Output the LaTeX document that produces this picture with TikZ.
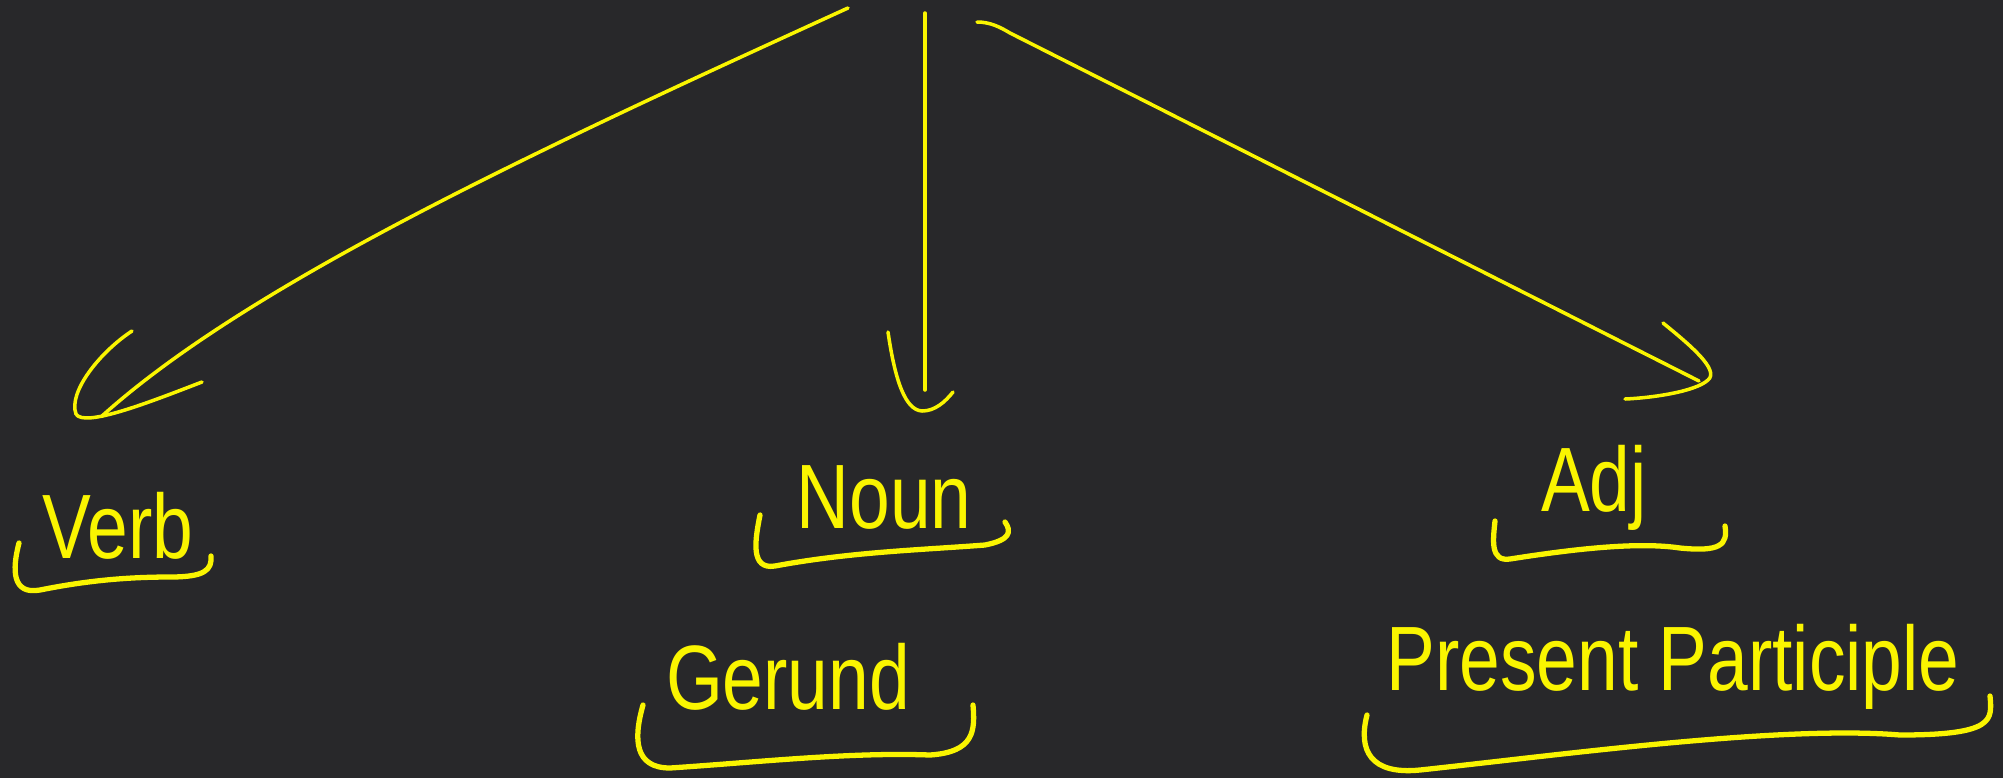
\documentclass[tikz,border=0pt]{standalone}
\usepackage{fontspec}
\setmainfont{Liberation Sans}
\newfontfamily\handfont[FakeStretch=0.8]{Liberation Sans}
\usetikzlibrary{positioning}
\definecolor{boardGray}{RGB}{40,40,42}
\definecolor{chalkYellow}{RGB}{250,245,0}

\begin{document}
\begin{tikzpicture}[x=0.01cm, y=-0.01cm,
  hand/.style={chalkYellow, line width=1pt, line cap=round, line join=round},
  ink/.style={hand, line width=1.5pt},
  word/.style={chalkYellow, font=\handfont\fontsize{26}{30}\selectfont, anchor=base, inner sep=0pt}]
  % Board
  \fill[boardGray] (0,0) rectangle (2003,778);
  \useasboundingbox (0,0) rectangle (2003,778);
  % Words
  \node[word] (verb) at (118,558) {Verb};
  \node[word] (noun) at (884,528) {Noun};
  \node[word] (adj) at (1594,511) {Adj};
  \node[word] (gerund) at (788,709) {Gerund};
  \node[word] (prespart) at (1673,690) {Present Participle};
  % Arrow ends
  \coordinate (srcL) at (848,8);
  \coordinate (tipL) at (102,416);
  \coordinate (srcM) at (925,13);
  \coordinate (tipM) at (925,390);
  \coordinate (srcR) at (977,22);
  \coordinate (tipR) at (1699,381);
  % Arrows
  \draw[hand] (srcL) .. controls (548,145) and (252,281) .. (tipL);
  \draw[hand] (132,331) .. controls (100,352) and (68,392) .. (76,414)
    .. controls (84,428) and (150,402) .. (202,382);
  \draw[hand] (srcM) -- (tipM);
  \draw[hand] (888,332) .. controls (895,380) and (905,410) .. (922,411)
    .. controls (935,411) and (945,402) .. (953,392);
  \draw[hand] (srcR) .. controls (990,22) and (1000,27) .. (1010,33) -- (tipR);
  \draw[hand] (1663,323) .. controls (1690,345) and (1720,370) .. (1708,380)
    .. controls (1695,392) and (1650,398) .. (1625,399);
  % Underlines
  \draw[ink] (19,543) .. controls (12,570) and (12,595) .. (40,590)
    .. controls (80,582) and (120,577) .. (170,577)
    .. controls (205,577) and (212,570) .. (211,556);
  \draw[ink] (760,515) .. controls (755,540) and (750,570) .. (775,566)
    .. controls (850,552) and (920,550) .. (985,545)
    .. controls (1010,540) and (1012,532) .. (1005,522);
  \draw[ink] (1495,521) .. controls (1493,540) and (1490,562) .. (1510,559)
    .. controls (1580,548) and (1640,542) .. (1680,548)
    .. controls (1720,552) and (1728,545) .. (1725,526);
  \draw[ink] (643,705) .. controls (633,740) and (635,768) .. (670,768)
    .. controls (760,762) and (850,752) .. (930,755)
    .. controls (975,752) and (975,730) .. (973,705);
  \draw[ink] (1367,715) .. controls (1358,750) and (1370,775) .. (1420,770)
    .. controls (1560,755) and (1780,725) .. (1900,735)
    .. controls (1995,735) and (1992,720) .. (1990,696);
\end{tikzpicture}
\end{document}
